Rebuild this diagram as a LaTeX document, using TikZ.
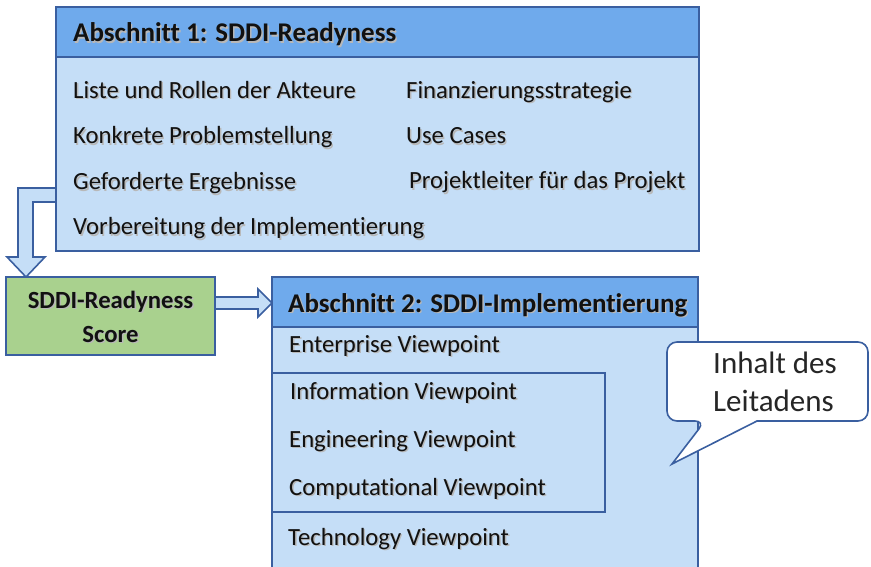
\documentclass[tikz,border=0pt]{standalone}
\usepackage{fontspec}
\setmainfont{Carlito}[Ligatures=NoCommon]
\usetikzlibrary{calc}
\pgfdeclarelayer{background}
\pgfsetlayers{background,main}

\definecolor{edge}{HTML}{3A5FA0}
\definecolor{headblue}{HTML}{6FAAEC}
\definecolor{bodyblue}{HTML}{C5DEF7}
\definecolor{scoregreen}{HTML}{A9D18E}
\definecolor{ink}{HTML}{111111}
\definecolor{notegray}{HTML}{262626}

\newcommand\bodysize{\fontsize{24.7}{30}\selectfont}
\newcommand\headsize{\bfseries\fontsize{27}{32}\selectfont}
\newcommand\scoresize{\bfseries\fontsize{24.7}{30}\selectfont}

\tikzset{
  panel/.style={draw=edge, line width=1.6pt, inner sep=0pt, outer sep=0pt, anchor=north west},
  head/.style={panel, fill=headblue},
  body/.style={panel, fill=bodyblue},
  hollow/.style={draw=edge, line width=1.6pt, fill=bodyblue, line join=miter},
  item/.style={inner sep=0pt, anchor=base west, text=ink, font=\bodysize},
  softshadow/.style={text=black!28},
  notetext/.style={inner sep=0pt, anchor=base west, text=notegray, font=\fontsize{31}{37}\selectfont},
}

% text with a soft drop shadow: [style]{name}{position}{text}
\newcommand\shadowed[4][]{%
  \node[item,#1,softshadow] (#2-sh) at ($(#3)+(1.4,1.4)$) {#4};
  \node[item,#1] (#2) at (#3) {#4};}

\begin{document}
\begin{tikzpicture}[x=1pt, y=-1pt]
\useasboundingbox (0,0) rectangle (871,567);
\clip (0,0) rectangle (871,567);

% ---- section 1 ----
\node[head, minimum width=643pt, minimum height=50pt] (h1) at (56,7) {};
\node[body, minimum width=643pt, minimum height=194pt] (b1) at (56,57) {};
\shadowed[font=\headsize]{h1t}{73,42}{Abschnitt 1: SDDI-Readyness}
\shadowed{i11}{73,98.5}{Liste und Rollen der Akteure}
\shadowed{i12}{73,144}{Konkrete Problemstellung}
\shadowed{i13}{73,190}{Geforderte Ergebnisse}
\shadowed{i14}{73,235}{Vorbereitung der Implementierung}
\shadowed{i15}{406,98.5}{Finanzierungsstrategie}
\shadowed{i16}{406,144}{Use Cases}
\shadowed{i17}{409,189}{Projektleiter für das Projekt}

% ---- score ----
\node[panel, fill=scoregreen, minimum width=209pt, minimum height=78pt] (score) at (6,277) {};
\shadowed[font=\scoresize, anchor=base]{s1}{110.5,308}{SDDI-Readyness}
\shadowed[font=\scoresize, anchor=base]{s2}{110.5,342}{Score}

% ---- section 2 ----
\node[body, minimum width=426pt, minimum height=300pt] (b2) at (272,327) {};
\node[head, minimum width=426pt, minimum height=50pt] (h2) at (272,277) {};
\node[panel, minimum width=333pt, minimum height=139pt] (inner) at (272,373) {};
\shadowed[font=\headsize]{h2t}{288,312}{Abschnitt 2: SDDI-Implementierung}
\shadowed{i21}{289,352}{Enterprise Viewpoint}
\shadowed{i22}{290,399}{Information Viewpoint}
\shadowed{i23}{289,447}{Engineering Viewpoint}
\shadowed{i24}{289,495}{Computational Viewpoint}
\shadowed{i25}{288,545}{Technology Viewpoint}

% ---- hollow arrows behind the boxes ----
\begin{pgfonlayer}{background}
\draw[hollow] (b1.west |- 0,188) -- (18,188) -- (18,257) -- (7,257)
  -- (score.north -| 26,0) -- (45,257) -- (33,257) -- (33,202)
  -- (b1.west |- 0,202) -- cycle;
\draw[hollow] (score.east |- 0,297) -- (258,297) -- (258,289)
  -- (h2.west |- 0,303) -- (258,317) -- (258,309)
  -- (score.east |- 0,309) -- cycle;
\end{pgfonlayer}

% ---- speech bubble ----
\draw[draw=edge, line width=1.6pt, fill=white]
  (757,421) [rounded corners=10pt] -- (868,421) -- (868,342) -- (667,342)
  -- (667,421) -- (705,421) [sharp corners] -- (672,464) -- cycle;
\node[notetext] (note1) at (713,373) {Inhalt des};
\node[notetext] (note2) at (713,411) {Leitadens};
\end{tikzpicture}
\end{document}
